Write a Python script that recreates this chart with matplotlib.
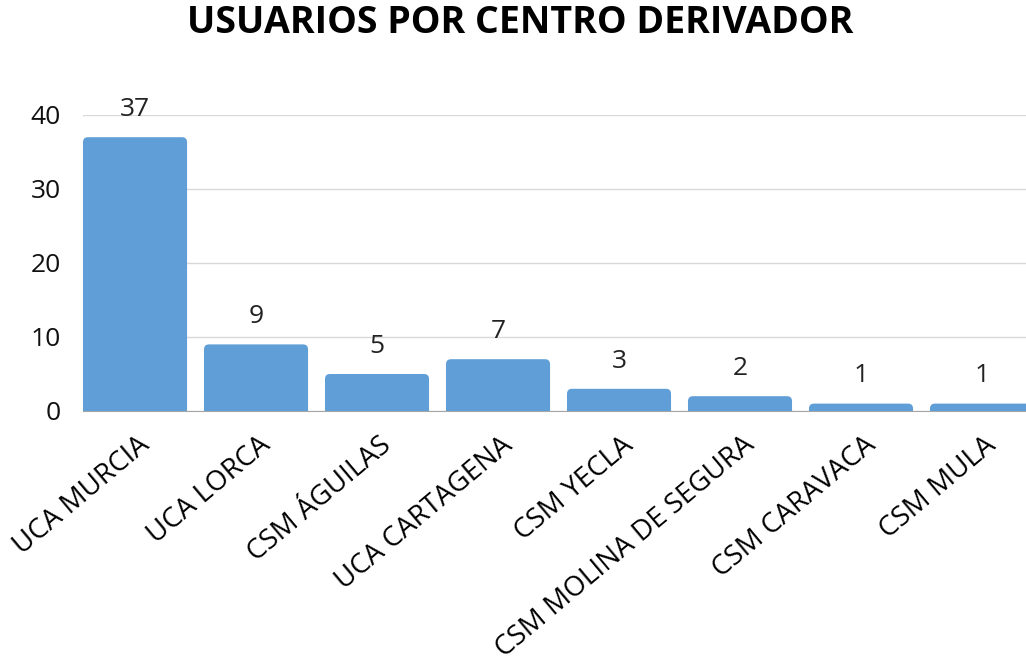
import matplotlib.pyplot as plt
from matplotlib.patches import FancyBboxPatch
from matplotlib.transforms import ScaledTranslation

plt.rcParams['font.family'] = ['Open Sans', 'DejaVu Sans']

# datos
centros = ["UCA MURCIA", "UCA LORCA", "CSM ÁGUILAS", "UCA CARTAGENA",
           "CSM YECLA", "CSM MOLINA DE SEGURA", "CSM CARAVACA", "CSM MULA"]
usuarios = [37, 9, 5, 7, 3, 2, 1, 1]
y_ticks = [0, 10, 20, 30, 40]

color_barra = '#5F9ED6'

fig = plt.figure(figsize=(10.26, 6.56), dpi=100)
# eje desde el borde de la primera barra, recortado a la derecha
ax = fig.add_axes([83 / 1026, 245 / 656, 959.5 / 1026, 296 / 656])

x = list(range(len(centros)))
bars = ax.bar(x, usuarios, width=0.86, color=color_barra)

# barras con esquinas redondeadas arriba
px_x = 121.0
px_y = 296 / 40
for b in bars:
    b.set_visible(False)
    p = FancyBboxPatch((b.get_x(), -2), b.get_width(), b.get_height() + 2,
                       boxstyle="round,pad=0,rounding_size=%f" % (5 / px_x),
                       mutation_aspect=px_x / px_y,
                       facecolor=color_barra, edgecolor='none', zorder=2)
    ax.add_patch(p)

for xi, v in zip(x, usuarios):
    ax.annotate(str(v), (xi, v), xytext=(0, 11), textcoords='offset points',
                ha='center', va='bottom', fontsize=19, color='#222222',
                annotation_clip=False)

ax.set_xlim(-0.43, len(centros) - 0.5)
ax.set_ylim(0, 40)
ax.set_yticks(y_ticks)
ax.set_xticks(x)
ax.set_xticklabels([])

# etiquetas de categoria giradas
trans = ax.get_xaxis_transform() + ScaledTranslation(0.11, -0.31, fig.dpi_scale_trans)
for xi, c in zip(x, centros):
    ax.text(xi, 0, c, transform=trans, rotation=40, ha='right', va='center',
            rotation_mode='anchor', fontsize=20, clip_on=False)

ax.tick_params(axis='y', labelsize=19, length=0, pad=16)
ax.tick_params(axis='x', length=0)
for lab in ax.get_yticklabels():
    lab.set_color('#111111')

ax.yaxis.grid(True, color='#D9D9D9', linewidth=1)
ax.set_axisbelow(True)
for s in ['top', 'right', 'left']:
    ax.spines[s].set_visible(False)
ax.spines['bottom'].set_color('#A6A6A6')
ax.spines['bottom'].set_zorder(1)

fig.text(520 / 1026, 1 - 23 / 656, "USUARIOS POR CENTRO DERIVADOR",
         ha='center', va='center', fontsize=27, fontweight='bold')

fig.savefig('out.png', dpi=100)
